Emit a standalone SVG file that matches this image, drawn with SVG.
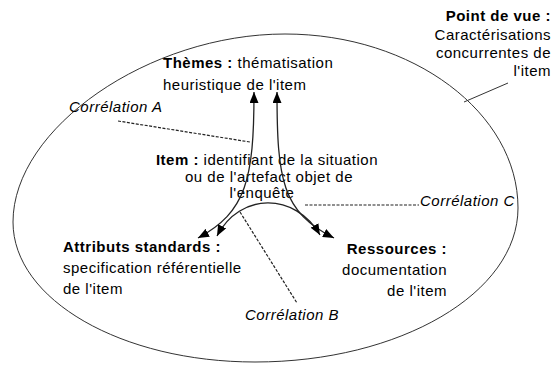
<svg xmlns="http://www.w3.org/2000/svg" width="555" height="367" viewBox="0 0 555 367">
<style>
text{font-family:"Liberation Sans",Arial,sans-serif;font-size:15px;fill:#000;letter-spacing:0.5px}
.b{font-weight:bold}
.i{font-style:italic}
.r{text-anchor:end}
.m{text-anchor:middle}
.arrow{fill:none;stroke:#222;stroke-width:1.3;marker-start:url(#ah);marker-end:url(#ah)}
.dash{fill:none;stroke:#222;stroke-width:1.2;stroke-dasharray:3 1.5}
.thin{fill:none;stroke:#333;stroke-width:1}
</style>
<defs>
<marker id="ah" viewBox="0 0 11 9" refX="11" refY="4.5" markerWidth="11" markerHeight="9" markerUnits="userSpaceOnUse" orient="auto-start-reverse">
<path d="M0,0 L11,4.5 L0,9 z" fill="#000"/>
</marker>
</defs>
<rect width="555" height="367" fill="#fff"/>
<g id="point-de-vue">
<path class="thin" d="M285,34 C413,34 518,113 518,208 C518,293 400,362 255,362 C122,362 13,300 13,222 C13,128 149,34 285,34 Z"/>
<text class="r b" x="551" y="21">Point de vue :</text>
<text class="r" x="551" y="39.5">Caractérisations</text>
<text class="r" x="551" y="58">concurrentes de</text>
<text class="r" x="551" y="76">l'item</text>
</g>
<g id="themes">
<text x="163" y="68"><tspan class="b">Thèmes :</tspan> thématisation</text>
<text x="163" y="90">heuristique de l'item</text>
</g>
<g id="item">
<text class="m" x="267" y="165"><tspan class="b">Item :</tspan> identifiant de la situation</text>
<text class="m" x="269" y="182">ou de l'artefact objet de</text>
<text class="m" x="262" y="198">l'enquête</text>
</g>
<g id="attributs">
<text x="63" y="252" class="b">Attributs standards :</text>
<text x="63" y="273">specification référentielle</text>
<text x="63" y="294">de l'item</text>
</g>
<g id="ressources">
<text class="r b" x="447" y="254">Ressources :</text>
<text class="r" x="447" y="275">documentation</text>
<text class="r" x="447" y="296">de l'item</text>
</g>
<g id="correlation-a"><text class="i" x="69" y="112">Corrélation A</text></g>
<g id="correlation-b"><text class="i" x="245" y="320">Corrélation B</text></g>
<g id="correlation-c"><text class="i" x="420" y="206">Corrélation C</text></g>
<g id="connectors">
<line class="thin" x1="464" y1="102" x2="508" y2="83"/>
<path class="arrow" d="M254,92 C254,180 246,212 198,238"/>
<path class="arrow" d="M277,92 C277,180 282,212 334,238"/>
<path class="arrow" d="M217,236 C240,192 295,192 320,235"/>
<line class="dash" x1="118" y1="121" x2="250" y2="142"/>
<line class="dash" x1="240" y1="212" x2="297" y2="303"/>
<line class="dash" x1="305" y1="205" x2="419" y2="205"/>
</g>
</svg>
